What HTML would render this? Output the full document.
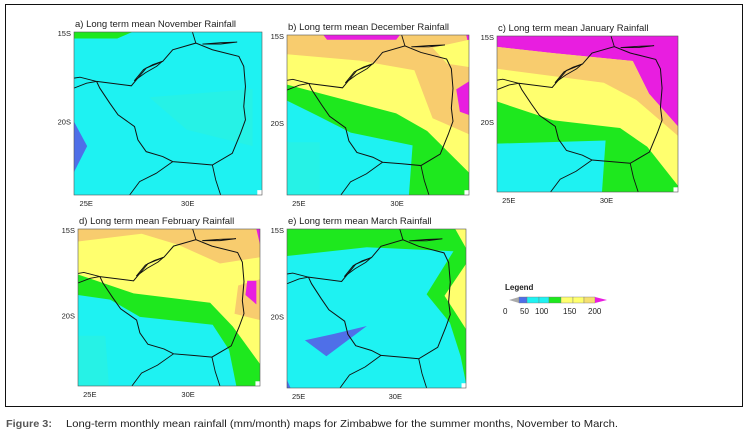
<!DOCTYPE html>
<html><head><meta charset="utf-8"><style>
html,body{margin:0;padding:0;background:#fff;}
svg{display:block;font-family:"Liberation Sans",sans-serif;}
</style></head><body>
<svg id="fig" width="750" height="434" viewBox="0 0 750 434" xmlns="http://www.w3.org/2000/svg">
<rect x="5.5" y="4.5" width="737" height="402" fill="#fff" stroke="#111" stroke-width="1"/>
<g id="panels"></g>
<g>
<text x="505" y="290" font-size="8" font-weight="bold" fill="#222">Legend</text>
<polygon points="509,300 519,297 519,303" fill="#aaa"/>
<rect x="519" y="297" width="8" height="6" fill="#4f6fe8" stroke="#777" stroke-width="0.4"/>
<rect x="527" y="297" width="12" height="6" fill="#1ef2f2" stroke="#777" stroke-width="0.4"/>
<rect x="539" y="297" width="10" height="6" fill="#1ef2f2" stroke="#777" stroke-width="0.4"/>
<rect x="549" y="297" width="12" height="6" fill="#1ee81e" stroke="#777" stroke-width="0.4"/>
<rect x="561" y="297" width="12" height="6" fill="#ffff6e" stroke="#777" stroke-width="0.4"/>
<rect x="573" y="297" width="11" height="6" fill="#ffff6e" stroke="#777" stroke-width="0.4"/>
<rect x="584" y="297" width="11" height="6" fill="#f5e070" stroke="#777" stroke-width="0.4"/>
<polygon points="595,297 607,300 595,303" fill="#e81ee0"/>
<text y="314" font-size="8" fill="#222"><tspan x="503">0</tspan><tspan x="520">50</tspan><tspan x="535">100</tspan><tspan x="563">150</tspan><tspan x="588">200</tspan></text>
</g>
<text x="6" y="427" font-size="10.5" fill="#555" font-weight="bold" font-family="'Liberation Sans Narrow','Liberation Sans',sans-serif" textLength="46" lengthAdjust="spacingAndGlyphs">Figure 3:</text>
<text x="66" y="427" font-size="10.5" fill="#222" font-family="'Liberation Sans Narrow','Liberation Sans',sans-serif" textLength="552" lengthAdjust="spacingAndGlyphs">Long-term monthly mean rainfall (mm/month) maps for Zimbabwe for the summer months, November to March.</text>
</svg>
<script>
const C={blue:"#4f6fe8",cyan:"#1ef2f2",teal:"#26f2e6",green:"#1ee81e",yellow:"#ffff6e",orange:"#f8cc6e",mag:"#e81ee0"};
const panelTitles=["a) Long term mean November Rainfall","b) Long term mean December Rainfall","c) Long term mean January Rainfall","d) Long term mean February Rainfall","e) Long term mean March Rainfall"];
const panelBoxes=[[74,32,188,163],[287,35,182,160],[497,36,181,156],[78,229,182,157],[287,229,179,159]];
const latLabels=["15S","20S"];
const lonLabels=["25E","30E"];
const latPos=[0.5,55];
const lonPos=[6.5,60.5];
const regions=[
 [["cyan",[[0,0],[100,0],[100,100],[0,100]]],["teal",[[40,40],[95,35],[95,70],[60,60]]],["green",[[0,0],[31,0],[23,4],[0,4]]],["blue",[[0,55],[7,70],[0,86]]]],
 [["orange",[[0,0],[100,0],[100,100],[0,100]]],["mag",[[20,0],[62,0],[60,3],[22,3]]],["mag",[[98.5,0],[100,0],[100,8]]],["yellow",[[80,8],[100,3],[100,20],[88,18]]],["yellow",[[0,12],[40,16],[70,22],[80,52],[100,62],[100,100],[0,100]]],["mag",[[93,34],[100,29],[100,50],[95,48]]],["green",[[0,31],[60,49],[77,60],[100,86],[100,100],[0,100]]],["cyan",[[0,41],[16,50],[35,61],[69,69],[67,100],[0,100]]],["teal",[[0,67],[18,67],[18,100],[0,100]]]],
 [["yellow",[[0,0],[100,0],[100,100],[0,100]]],["mag",[[0,0],[100,0],[100,58],[84,37],[75,16],[31,11],[0,7]]],["orange",[[0,7],[31,11],[75,16],[84,37],[100,58],[100,64],[77,41],[59,30],[0,21]]],["green",[[0,42],[31,54],[68,59],[83,71],[100,96],[100,100],[0,100]]],["cyan",[[0,69],[60,67],[58,100],[0,100]]]],
 [["orange",[[0,0],[100,0],[100,100],[0,100]]],["yellow",[[0,8],[35,3],[55,10],[78,22],[100,18],[100,32],[88,36],[86,54],[100,58],[100,100],[0,100]]],["mag",[[98,0],[100,0],[100,10]]],["mag",[[93,33],[98,33],[98,48],[92,42]]],["green",[[0,29],[30.5,41],[72.6,47],[85,62],[100,86],[100,100],[0,100]]],["cyan",[[0,42],[17.7,45],[34,56],[74,61],[83,77],[87,100],[0,100]]],["teal",[[0,68],[15,68],[17,100],[0,100]]]],
 [["green",[[0,0],[100,0],[100,100],[0,100]]],["yellow",[[94,0],[100,0],[100,12]]],["yellow",[[100,22],[88,42],[100,63]]],["cyan",[[0,17],[44.6,11.5],[93,14],[78,41],[91,59],[97,80],[100,97],[100,100],[0,100]]],["blue",[[10,70],[26,66],[44.6,61],[22,80]]],["blue",[[0,95],[2,100],[0,100]]]]
];
const zimBorder=[[12,30.3],[30.5,33],[38.4,22.1],[47.2,18],[52.5,10.9],[64.8,6.8],[73.6,10.9],[87.7,15],[90.3,21.1],[91.2,33.4],[90.3,45.7],[91.2,53.9],[88.6,62.1],[84.2,74.4],[73.6,81.6],[63,80.5],[52.5,79.5],[47.2,76.4],[38.4,73.4],[34,66.2],[32.2,58],[23.4,50.8],[19,43.6],[13.7,34.4],[12,30.3]];
const otherBorders=[[[63,0],[64.8,6.8]],[[0,28.3],[3.2,27.7],[12,30.3]],[[0,34.4],[6.7,31.4],[12,30.3]],[[52.5,79.5],[43.7,86.7],[34.9,91.8],[29.6,100]],[[73.6,81.6],[75.4,90.8],[78,100]],[[68.3,7.4],[78,6.6],[86.8,6.2],[78,7.4],[68.3,7.4]],[[32,30],[37,23],[42,20],[47,18],[44,21],[38,25],[32,30]]];
const NS="http://www.w3.org/2000/svg";
const root=document.getElementById("panels");
function mk(t,a,p){const e=document.createElementNS(NS,t);for(const k in a)e.setAttribute(k,a[k]);p.appendChild(e);return e;}
const pts=a=>a.map(p=>p.join(",")).join(" ");
panelBoxes.forEach((b,i)=>{
 const [x,y,w,h]=b;
 const g=mk("g",{},root);
 
 
 const t=mk("text",{x:x+1,y:y-5,"font-size":"9.5",fill:"#222"},g);t.textContent=panelTitles[i];
 
 
 const s=mk("svg",{x:x,y:y,width:w,height:h,viewBox:"0 0 100 100",preserveAspectRatio:"none"},g);
 regions[i].forEach(r=>{const p=mk("polygon",{points:pts(r[1]),fill:C[r[0]]},s);
  
  });
 const bd=mk("polyline",{points:pts(zimBorder),fill:"none",stroke:"#111","stroke-width":"1","vector-effect":"non-scaling-stroke"},s);
 
 
 otherBorders.forEach(o=>{const l=mk("polyline",{points:pts(o),fill:"none",stroke:"#111","stroke-width":"0.9","vector-effect":"non-scaling-stroke"},s);
  
  });
 mk("rect",{x:97.5,y:97,width:2.5,height:3,fill:"#fff"},s);
 mk("rect",{x:x,y:y,width:w,height:h,fill:"none",stroke:"#555","stroke-width":"0.6"},g);
 latLabels.forEach((l,j)=>{const tt=mk("text",{x:x-3,y:y+latPos[j]*h/100+3,"font-size":"7.5","text-anchor":"end",fill:"#222"},g);tt.textContent=l;
  
  });
 lonLabels.forEach((l,j)=>{const tt=mk("text",{x:x+lonPos[j]*w/100,y:y+h+11,"font-size":"7.5","text-anchor":"middle",fill:"#222"},g);tt.textContent=l;
  
  });
});
</script>
</body></html>
